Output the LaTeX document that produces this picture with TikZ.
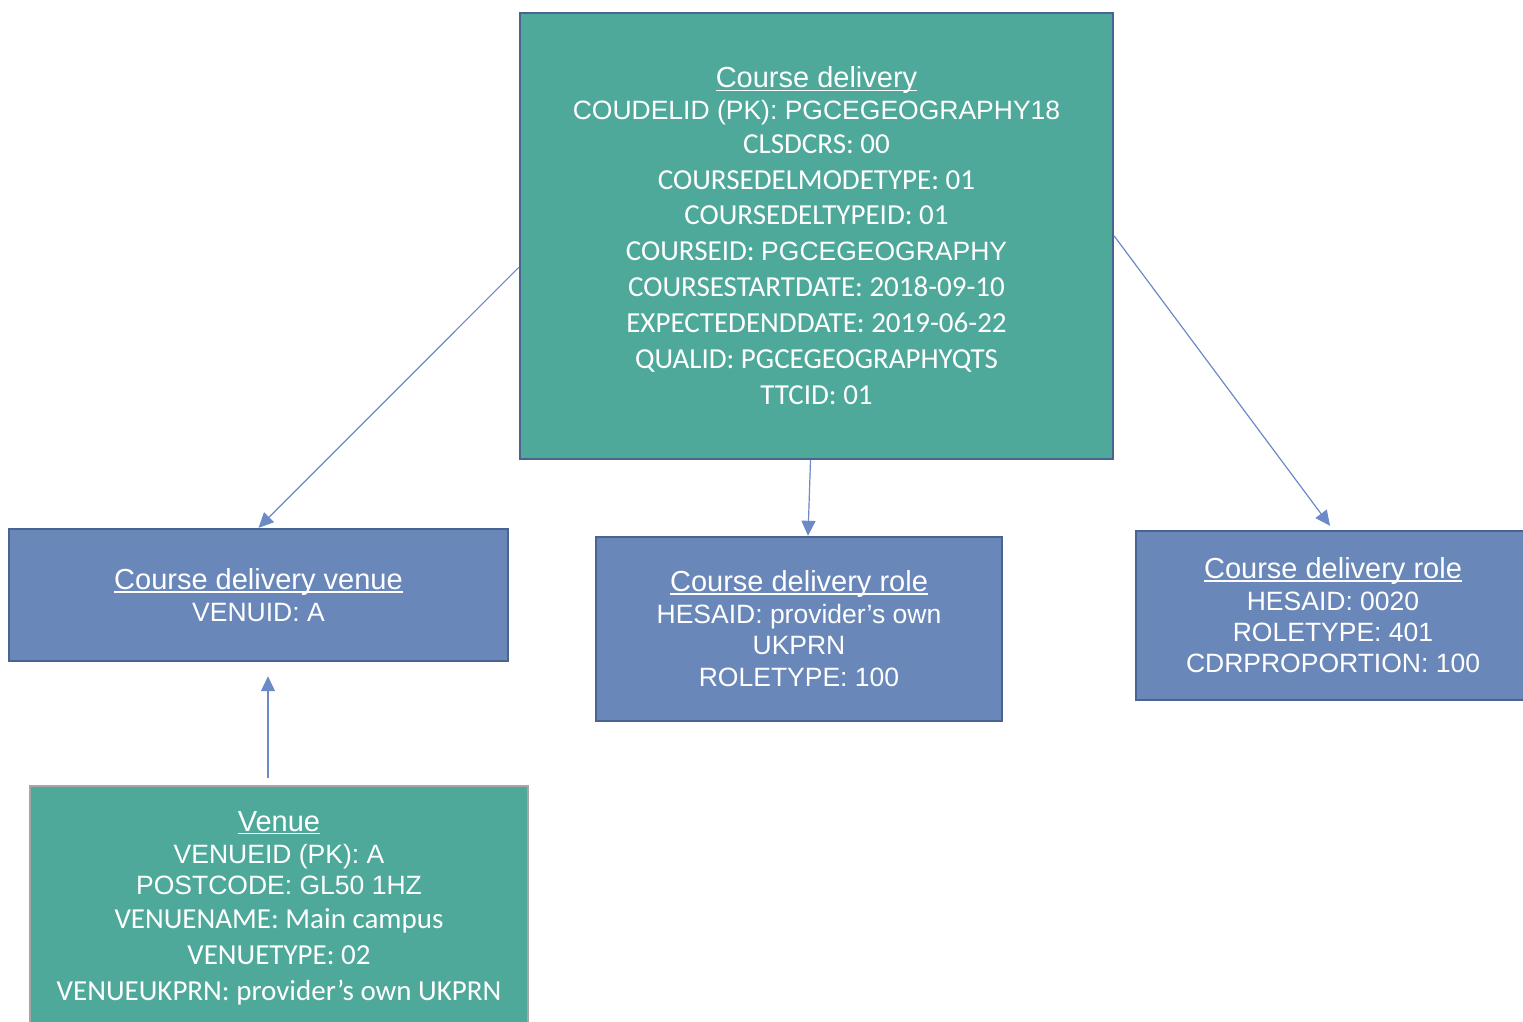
\documentclass[tikz,border=0pt]{standalone}
\usepackage{fontspec}
\newfontfamily\arialf{Liberation Sans}
\newfontfamily\calf{Carlito}
\usetikzlibrary{arrows.meta,calc}
\definecolor{tealfill}{HTML}{4EA99A}
\definecolor{bluefill}{HTML}{6A87B9}
\definecolor{blueedge}{HTML}{4A6391}
\definecolor{greyedge}{HTML}{A6A6A6}
\definecolor{conncol}{HTML}{6C8BC6}
\newsavebox{\hdbox}
\newcommand{\hd}[1]{{\arialf\fontsize{29}{32}\selectfont\sbox{\hdbox}{#1}\rlap{\rule[-3.2pt]{\wd\hdbox}{1.6pt}}\usebox{\hdbox}}}
\newcommand{\ar}{\arialf\fontsize{26.5}{32}\selectfont}
\newcommand{\cb}{\calf\fontsize{29}{32}\selectfont}
\tikzset{
  box/.style={rectangle, inner sep=0pt, align=center, text=white,
    font=\arialf\fontsize{26.5}{32}\selectfont, line width=2.4pt},
  tealbox/.style={box, fill=tealfill, draw=blueedge},
  bluebox/.style={box, fill=bluefill, draw=blueedge},
  venbox/.style={box, fill=tealfill, draw=greyedge},
  conn/.style={draw=conncol, line width=1.2pt, -{Triangle[length=15pt,width=14pt]}, fill=conncol}
}
\begin{document}
\begin{tikzpicture}[x=1pt,y=-1pt]
\useasboundingbox (0,0) rectangle (1523,1021);
\node[tealbox, minimum width=593pt, minimum height=446pt] (cd) at (816.5,236) {%
  \hd{Course delivery}\\
  {\ar COUDELID (PK): PGCEGEOGRAPHY18}\\[2pt]
  {\cb CLSDCRS: 00}\\[4pt]
  {\cb COURSEDELMODETYPE: 01}\\[3pt]
  {\cb COURSEDELTYPEID: 01}\\[4pt]
  {\cb COURSEID: }{\ar PGCEGEOGRAPHY}\\[4pt]
  {\cb COURSESTARTDATE: 2018-09-10}\\[4pt]
  {\cb EXPECTEDENDDATE: 2019-06-22}\\[4pt]
  {\cb QUALID: PGCEGEOGRAPHYQTS}\\[4pt]
  {\cb TTCID: 01}};
\node[bluebox, minimum width=499pt, minimum height=132pt] (cdv) at (258.5,595) {%
  \hd{Course delivery venue}\\
  {\ar VENUID: A}};
\node[bluebox, minimum width=406pt, minimum height=184pt] (cdr1) at (799,629) {%
  \hd{Course delivery role}\\
  {\ar HESAID: provider’s own}\\[-1pt]
  {\ar UKPRN}\\
  {\ar ROLETYPE: 100}};
\node[bluebox, minimum width=394pt, minimum height=169pt] (cdr2) at (1333,615.5) {%
  \hd{Course delivery role}\\
  {\ar HESAID: 0020}\\[-1pt]
  {\ar ROLETYPE: 401}\\[-1pt]
  {\ar CDRPROPORTION: 100}};
\node[venbox, minimum width=498pt, minimum height=244pt] (ven) at (279,908) {%
  \hd{Venue}\\
  {\ar VENUEID (PK): A}\\[-1pt]
  {\ar POSTCODE: GL50 1HZ}\\[2pt]
  {\cb VENUENAME: Main campus}\\[4pt]
  {\cb VENUETYPE: 02}\\[4pt]
  {\cb VENUEUKPRN: provider’s own UKPRN}};
\draw[conn] (cd.186) -- (cdv.north);
\draw[conn] ($(cd.south)+(-6,0)$) -- ($(cdr1.north)+(9,0)$);
\draw[conn, shorten >=5pt] (cd.east) -- (cdr2.north);
\coordinate (vtop) at ($(ven.north)+(-11,0)$);
\draw[conn, shorten <=7pt, shorten >=14pt] (vtop) -- (vtop |- cdv.south);
\end{tikzpicture}
\end{document}
